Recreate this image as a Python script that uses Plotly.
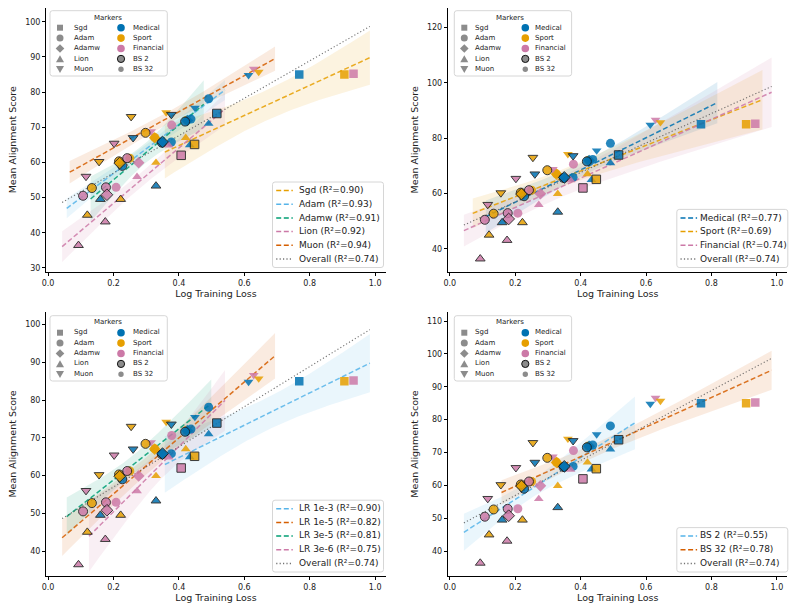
import numpy as np
import plotly.graph_objects as go

# ---------------- data ----------------
# Order = drawing order (points hidden under others first, then BS 32, then BS 2)
optimizer = ["Adam", "Adamw", "Adamw",
             "Sgd", "Sgd", "Sgd",
             "Adam", "Adam", "Adam", "Adam", "Adam", "Adam", "Adam",
             "Adamw",
             "Lion", "Lion", "Lion", "Lion", "Lion", "Lion",
             "Muon", "Muon", "Muon", "Muon", "Muon", "Muon",
             "Sgd", "Sgd", "Sgd",
             "Adam", "Adam", "Adam", "Adam", "Adam", "Adam", "Adam", "Adam", "Adam",
             "Adamw", "Adamw", "Adamw",
             "Lion", "Lion", "Lion", "Lion", "Lion", "Lion",
             "Muon", "Muon", "Muon", "Muon", "Muon", "Muon"]
domain = ["Sport", "Medical", "Sport",
          "Medical", "Sport", "Financial",
          "Medical", "Medical", "Medical", "Financial", "Financial", "Sport", "Sport",
          "Financial",
          "Medical", "Sport", "Medical", "Financial", "Sport", "Financial",
          "Medical", "Financial", "Sport", "Sport", "Medical", "Financial",
          "Medical", "Sport", "Financial",
          "Medical", "Medical", "Medical", "Sport", "Sport", "Sport", "Financial", "Financial", "Financial",
          "Sport", "Medical", "Financial",
          "Medical", "Medical", "Sport", "Sport", "Financial", "Financial",
          "Medical", "Medical", "Financial", "Sport", "Sport", "Financial"]
batch_size = [32, 32, 32,
              32, 32, 32,
              32, 32, 32, 32, 32, 32, 32,
              32,
              32, 32, 32, 32, 32, 32,
              32, 32, 32, 32, 32, 32,
              2, 2, 2,
              2, 2, 2, 2, 2, 2, 2, 2, 2,
              2, 2, 2,
              2, 2, 2, 2, 2, 2,
              2, 2, 2, 2, 2, 2]
learning_rate = ["3e-6", "1e-5", "1e-5",
                 "1e-3", "1e-3", "1e-3",
                 "3e-6", "1e-5", "3e-5", "1e-5", "3e-5", "1e-5", "3e-5",
                 "1e-5",
                 "3e-6", "3e-6", "1e-5", "3e-6", "1e-5", "1e-5",
                 "1e-5", "1e-5", "1e-5", "3e-5", "3e-5", "3e-5",
                 "1e-3", "1e-3", "1e-3",
                 "3e-6", "1e-5", "3e-5", "3e-6", "1e-5", "3e-5", "3e-6", "1e-5", "3e-5",
                 "1e-5", "1e-5", "1e-5",
                 "3e-6", "1e-5", "3e-6", "1e-5", "3e-6", "1e-5",
                 "1e-5", "3e-5", "1e-5", "1e-5", "3e-5", "3e-5"]
log_loss = [0.424, 0.426, 0.326,
            0.768, 0.906, 0.934,
            0.491, 0.437, 0.377, 0.378, 0.208, 0.326, 0.250,
            0.277,
            0.491, 0.421, 0.433, 0.369, 0.330, 0.272,
            0.613, 0.629, 0.644, 0.361, 0.449, 0.315,
            0.516, 0.448, 0.407,
            0.419, 0.348, 0.227, 0.298, 0.217, 0.134, 0.242, 0.177, 0.107,
            0.219, 0.350, 0.180,
            0.330, 0.160, 0.222, 0.120, 0.175, 0.093,
            0.377, 0.260, 0.202, 0.254, 0.156, 0.116]
alignment = [72.0, 71.9, 67.0,
             85.0, 85.0, 85.2,
             78.1, 72.3, 65.8, 70.6, 52.9, 67.1, 61.2,
             59.9,
             71.0, 67.0, 64.9, 64.8, 59.9, 55.9,
             84.8, 86.6, 85.7, 74.2, 75.5, 68.8,
             73.9, 65.1, 62.0,
             71.6, 65.6, 59.0, 68.4, 60.3, 52.7, 61.2, 52.9, 50.5,
             59.8, 65.8, 50.8,
             53.3, 49.5, 49.5, 45.0, 43.1, 36.4,
             73.6, 67.0, 65.4, 73.0, 60.2, 56.0]

optimizer_names = ["Sgd", "Adam", "Adamw", "Lion", "Muon"]
domain_names = ["Medical", "Sport", "Financial"]
lr_names = ["1e-3", "1e-5", "3e-5", "3e-6"]
bs_names = [2, 32]

r2_optimizer = [0.90, 0.93, 0.91, 0.92, 0.94]
r2_domain = [0.77, 0.69, 0.74]
r2_lr = [0.90, 0.82, 0.81, 0.75]
r2_bs = [0.55, 0.78]
r2_overall = 0.74

x_ticks = [0.0, 0.2, 0.4, 0.6, 0.8, 1.0]

# ---------------- styles ----------------
DOMAIN_COLORS = {"Medical": "#0072B2", "Sport": "#E69F00", "Financial": "#CC79A7"}
OPT_FIT_COLORS = ["#E69F00", "#56B4E9", "#009E73", "#CC79A7", "#D55E00"]
DOM_FIT_COLORS = ["#0072B2", "#E69F00", "#CC79A7"]
LR_FIT_COLORS = ["#56B4E9", "#D55E00", "#009E73", "#CC79A7"]
BS_FIT_COLORS = ["#56B4E9", "#D55E00"]
SYMBOLS = {"Sgd": "square", "Adam": "circle", "Adamw": "diamond",
           "Lion": "triangle-up", "Muon": "triangle-down"}
SIZES2 = {"Sgd": 8.5, "Adam": 9, "Adamw": 9, "Lion": 8.5, "Muon": 8.5}
SIZES32 = {"Sgd": 8.5, "Adam": 9, "Adamw": 9, "Lion": 8.5, "Muon": 8.5}
FONT = "DejaVu Sans"
TXT = "#222222"

W, H = 794, 610
AX = [(41.7, 8, 383, 272), (446, 8, 787.3, 272),
      (41.7, 313, 383, 576.5), (446, 313, 787.3, 576.5)]
XR = [-0.005, 1.032]
YR = [[28.95, 103.9], [31.8, 127.0], [33.5, 103.2], [32.6, 112.6]]
YDT = [10, 20, 10, 10]


def rgba(h, a):
    h = h.lstrip("#")
    return "rgba(%d,%d,%d,%.3f)" % (int(h[0:2], 16), int(h[2:4], 16), int(h[4:6], 16), a)


def t975(df):
    z = 1.959964
    g1 = (z ** 3 + z) / 4
    g2 = (5 * z ** 5 + 16 * z ** 3 + 3 * z) / 96
    g3 = (3 * z ** 7 + 19 * z ** 5 + 17 * z ** 3 - 15 * z) / 384
    return z + g1 / df + g2 / df ** 2 + g3 / df ** 3


def regress(xs, ys):
    xs = np.asarray(xs, float)
    ys = np.asarray(ys, float)
    n = len(xs)
    b, a = np.polyfit(xs, ys, 1)
    xg = np.linspace(xs.min() - 0.05, xs.max() + 0.05, 120)
    yh = a + b * xg
    res = ys - (a + b * xs)
    s = np.sqrt(np.sum(res ** 2) / (n - 2))
    sxx = np.sum((xs - xs.mean()) ** 2)
    hw = t975(n - 2) * s * np.sqrt(1.0 / n + (xg - xs.mean()) ** 2 / sxx)
    return xg, yh, yh - hw, yh + hw


X = np.array(log_loss)
Y = np.array(alignment)
OPT = np.array(optimizer)
DOM = np.array(domain)
BS = np.array(batch_size)
LR = np.array(learning_rate)

panels = [
    (OPT, optimizer_names, optimizer_names, OPT_FIT_COLORS, r2_optimizer),
    (DOM, domain_names, domain_names, DOM_FIT_COLORS, r2_domain),
    (LR, lr_names, ["LR " + v for v in lr_names], LR_FIT_COLORS, r2_lr),
    (BS, bs_names, ["BS %d" % v for v in bs_names], BS_FIT_COLORS, r2_bs),
]

fig = go.Figure()
shapes = []
annotations = []


def ppath(points, close=True):
    s = "M%.2f,%.2f" % (points[0][0], -points[0][1])
    for (x, y) in points[1:]:
        s += " L%.2f,%.2f" % (x, -y)
    if close:
        s += " Z"
    return s


def pix_shape(**kw):
    d = dict(xref="paper", yref="paper", xsizemode="pixel", ysizemode="pixel",
             xanchor=0, yanchor=1, layer="above")
    d.update(kw)
    return d


def rounded_box(x0, y0, x1, y1, r=2.5):
    p = ("M%.2f,%.2f L%.2f,%.2f Q%.2f,%.2f %.2f,%.2f L%.2f,%.2f Q%.2f,%.2f %.2f,%.2f "
         "L%.2f,%.2f Q%.2f,%.2f %.2f,%.2f L%.2f,%.2f Q%.2f,%.2f %.2f,%.2f Z") % (
        x0 + r, -y0, x1 - r, -y0, x1, -y0, x1, -(y0 + r),
        x1, -(y1 - r), x1, -y1, x1 - r, -y1,
        x0 + r, -y1, x0, -y1, x0, -(y1 - r),
        x0, -(y0 + r), x0, -y0, x0 + r, -y0)
    shapes.append(pix_shape(type="path", path=p, line=dict(color="#cccccc", width=0.8),
                            fillcolor="rgba(255,255,255,0.8)"))


def text(x, y, s, size, anchor="left"):
    annotations.append(dict(x=x / W, y=1 - y / H, xref="paper", yref="paper", text=s,
                            showarrow=False, xanchor=anchor, yanchor="middle",
                            font=dict(family=FONT, size=size, color=TXT), borderpad=0))


def glyph(kind, cx, cy, color, edge=None, r=3.5):
    line = dict(color=edge, width=1) if edge else dict(width=0)
    if kind == "circle":
        shapes.append(pix_shape(type="circle", x0=cx - r, x1=cx + r, y0=-(cy + r), y1=-(cy - r),
                                fillcolor=color, line=line))
    elif kind == "square":
        q = 3.0
        shapes.append(pix_shape(type="path", path=ppath([(cx - q, cy - q), (cx + q, cy - q),
                                                         (cx + q, cy + q), (cx - q, cy + q)]),
                                fillcolor=color, line=line))
    elif kind == "diamond":
        q = 4.3
        shapes.append(pix_shape(type="path", path=ppath([(cx, cy - q), (cx + q, cy),
                                                         (cx, cy + q), (cx - q, cy)]),
                                fillcolor=color, line=line))
    elif kind == "triangle-up":
        shapes.append(pix_shape(type="path", path=ppath([(cx - 4, cy + 3.3), (cx + 4, cy + 3.3),
                                                         (cx, cy - 3.7)]),
                                fillcolor=color, line=line))
    elif kind == "triangle-down":
        shapes.append(pix_shape(type="path", path=ppath([(cx - 4, cy - 3.3), (cx + 4, cy - 3.3),
                                                         (cx, cy + 3.7)]),
                                fillcolor=color, line=line))


def markers_legend(al, at):
    rounded_box(al + 3.3, at + 2.7, al + 120.6, at + 68)
    text(al + 62, at + 9.6, "Markers", 7, "center")
    rows = [19.7, 30.1, 40.5, 50.9, 61.3]
    gray = "#8c8c8c"
    for k, name in enumerate(optimizer_names):
        glyph(SYMBOLS[name], al + 13.3, at + rows[k], gray)
        text(al + 26.3, at + rows[k], name, 7)
    for k, name in enumerate(domain_names):
        glyph("circle", al + 74.3, at + rows[k], DOMAIN_COLORS[name], r=3.8)
        text(al + 86.3, at + rows[k], name, 7)
    glyph("circle", al + 74.3, at + rows[3], gray, edge="#111111", r=3.6)
    text(al + 86.3, at + rows[3], "BS 2", 7)
    glyph("circle", al + 74.3, at + rows[4], gray, r=2.7)
    text(al + 86.3, at + rows[4], "BS 32", 7)


def fit_legend(ar, ab, entries):
    n = len(entries)
    bw = 111
    bh = 17 + (n - 1) * 13.7
    x1 = ar - 4.5
    y1 = ab - 4.5
    x0 = x1 - bw
    y0 = y1 - bh
    rounded_box(x0, y0, x1, y1)
    for k, (label, color, dash) in enumerate(entries):
        yy = y0 + 8.5 + k * 13.7
        shapes.append(pix_shape(type="line", x0=x0 + 3.7, x1=x0 + 20.3, y0=-yy, y1=-yy,
                                line=dict(color=color, width=1.5, dash=dash)))
        text(x0 + 27, yy, label, 9)


for i, (col, names, labels, colors, r2s) in enumerate(panels):
    sfx = "" if i == 0 else str(i + 1)
    xa, ya = "x" + sfx, "y" + sfx
    fits = []
    for g, c in zip(names, colors):
        m = col == g
        fits.append(regress(X[m], Y[m]))
    # confidence bands
    for (xg, yh, lo, hi), c in zip(fits, colors):
        fig.add_trace(go.Scatter(x=np.concatenate([xg, xg[::-1]]),
                                 y=np.concatenate([hi, lo[::-1]]),
                                 fill="toself", fillcolor=rgba(c, 0.12), line=dict(width=0),
                                 mode="lines", hoverinfo="skip", showlegend=False,
                                 xaxis=xa, yaxis=ya))
    # fit lines
    for (xg, yh, lo, hi), c in zip(fits, colors):
        fig.add_trace(go.Scatter(x=xg, y=yh, mode="lines",
                                 line=dict(color=rgba(c, 0.85), width=1.5, dash="5px,2.6px"),
                                 hoverinfo="skip", showlegend=False, xaxis=xa, yaxis=ya))
    xg, yh, lo, hi = regress(X, Y)
    fig.add_trace(go.Scatter(x=xg, y=yh, mode="lines",
                             line=dict(color="rgba(80,80,80,0.8)", width=1.1, dash="1.2px,2.2px"),
                             hoverinfo="skip", showlegend=False, xaxis=xa, yaxis=ya))
    # points
    fig.add_trace(go.Scatter(
        x=X, y=Y, mode="markers", showlegend=False, xaxis=xa, yaxis=ya,
        marker=dict(
            symbol=[SYMBOLS[o] for o in optimizer],
            size=[SIZES2[o] if b == 2 else SIZES32[o] for o, b in zip(optimizer, batch_size)],
            color=[DOMAIN_COLORS[d] for d in domain],
            opacity=0.85,
            line=dict(color=["#1a1a1a" if b == 2 else "rgba(0,0,0,0)" for b in batch_size],
                      width=[1.0 if b == 2 else 0 for b in batch_size]))))

    al, at, ar, ab = AX[i]
    markers_legend(al, at)
    entries = [("%s (R\u00b2=%.2f)" % (lab, r), c, "5px,2.6px")
               for lab, c, r in zip(labels, colors, r2s)]
    entries.append(("Overall (R\u00b2=%.2f)" % r2_overall, "rgba(80,80,80,0.8)",
                    "1.2px,2.2px"))
    fit_legend(ar, ab, entries)

axis_common = dict(showline=True, linecolor="black", linewidth=0.8, ticks="outside",
                   ticklen=3.5, tickwidth=0.8, tickcolor="black", showgrid=False,
                   zeroline=False, tickfont=dict(family=FONT, size=8, color=TXT))
layout_axes = {}
for i in range(4):
    sfx = "" if i == 0 else str(i + 1)
    al, at, ar, ab = AX[i]
    layout_axes["xaxis" + sfx] = dict(
        domain=[al / W, ar / W], range=XR, tickvals=x_ticks,
        ticktext=["%.1f" % v for v in x_ticks], anchor="y" + sfx,
        title=dict(text="Log Training Loss", font=dict(family=FONT, size=9.5, color=TXT),
                   standoff=3), **axis_common)
    layout_axes["yaxis" + sfx] = dict(
        domain=[1 - ab / H, 1 - at / H], range=YR[i], dtick=YDT[i], tick0=0, anchor="x" + sfx,
        title=dict(text="Mean Alignment Score", font=dict(family=FONT, size=9.5, color=TXT),
                   standoff=6), **axis_common)

fig.update_layout(width=W, height=H, margin=dict(l=0, r=0, t=0, b=0),
                  paper_bgcolor="white", plot_bgcolor="white", showlegend=False,
                  font=dict(family=FONT, color=TXT), shapes=shapes, annotations=annotations,
                  **layout_axes)

fig.write_html("out.html")
